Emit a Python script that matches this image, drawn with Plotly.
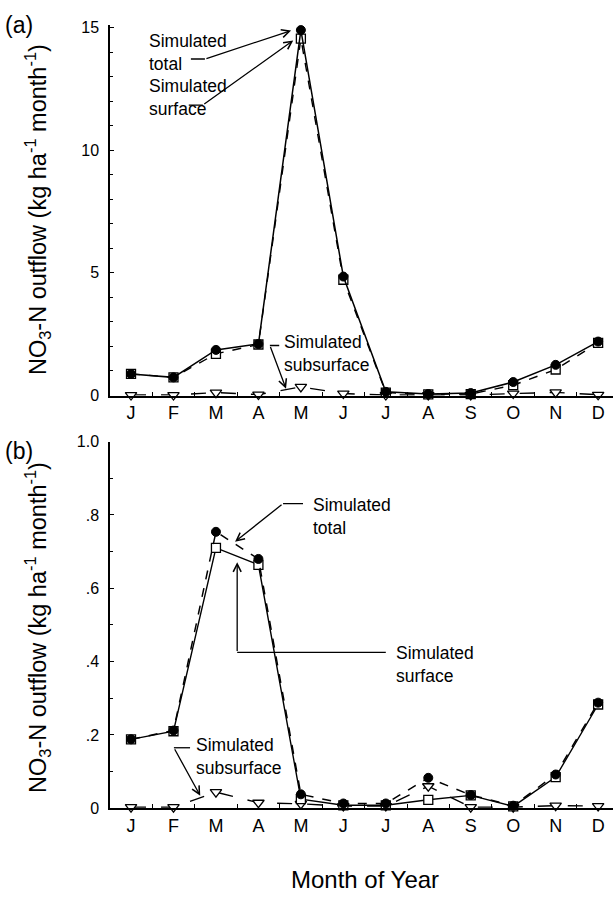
import plotly.graph_objects as go

months = ["J", "F", "M", "A", "M", "J", "J", "A", "S", "O", "N", "D"]
x = list(range(1, 13))

# Panel (a)
a_total = [0.88, 0.74, 1.86, 2.10, 14.9, 4.85, 0.15, 0.06, 0.10, 0.55, 1.25, 2.20]
a_surface = [0.88, 0.74, 1.70, 2.08, 14.55, 4.72, 0.12, 0.05, 0.06, 0.42, 1.06, 2.15]
a_subsurface = [0.02, 0.02, 0.12, 0.04, 0.35, 0.08, 0.02, 0.02, 0.02, 0.08, 0.13, 0.03]

# Panel (b)
b_total = [0.188, 0.212, 0.754, 0.680, 0.038, 0.013, 0.013, 0.083, 0.036, 0.007, 0.092, 0.288]
b_surface = [0.188, 0.210, 0.710, 0.664, 0.025, 0.008, 0.008, 0.023, 0.035, 0.005, 0.085, 0.283]
b_subsurface = [0.003, 0.003, 0.044, 0.015, 0.012, 0.006, 0.006, 0.060, 0.003, 0.003, 0.007, 0.006]

a_yticks = [0, 5, 10, 15]
a_yticktext = ["0", "5", "10", "15"]
b_yticks = [0, 0.2, 0.4, 0.6, 0.8, 1.0]
b_yticktext = ["0", ".2", ".4", ".6", ".8", "1.0"]

NARROW = "Liberation Sans Narrow, Arial Narrow, Liberation Sans, Arial"
REG = "Liberation Sans, Arial"

W, H = 613, 897
fig = go.Figure()

def add_series(xa, ya, total, surface, subsurface, dash_total, dash_surface):
    fig.add_trace(go.Scatter(x=x, y=subsurface, xaxis=xa, yaxis=ya, mode="lines+markers",
                             line=dict(color="black", width=1.4, dash="longdash"),
                             marker=dict(symbol="triangle-down", size=10, color="white",
                                         line=dict(color="black", width=1.3)),
                             showlegend=False, cliponaxis=False))
    fig.add_trace(go.Scatter(x=x, y=surface, xaxis=xa, yaxis=ya, mode="lines+markers",
                             line=dict(color="black", width=1.4, dash=dash_surface),
                             marker=dict(symbol="square", size=9, color="white",
                                         line=dict(color="black", width=1.3)),
                             showlegend=False, cliponaxis=False))
    fig.add_trace(go.Scatter(x=x, y=total, xaxis=xa, yaxis=ya, mode="lines+markers",
                             line=dict(color="black", width=1.5, dash=dash_total),
                             marker=dict(symbol="circle", size=9, color="black",
                                         line=dict(color="black", width=1)),
                             showlegend=False, cliponaxis=False))

add_series("x", "y", a_total, a_surface, a_subsurface, "solid", "dash")
add_series("x2", "y2", b_total, b_surface, b_subsurface, "dash", "solid")

x_left = 110 / W
xrange_ = [0.505, 12.35]
common_x = dict(range=xrange_, showline=True, linecolor="black", linewidth=1.5,
                tickmode="array", tickvals=x, ticktext=months, ticks="", showgrid=False,
                zeroline=False, tickfont=dict(family=NARROW, size=18, color="black"),
                ticklabelstandoff=0,
                minor=dict(tickmode="array", tickvals=[i + 0.5 for i in range(0, 12)],
                           ticks="inside", ticklen=4, tickcolor="black", tickwidth=1))
common_y = dict(showline=True, linecolor="black", linewidth=1.5, ticks="inside",
                ticklen=4, tickcolor="black", tickwidth=1, showgrid=False, zeroline=False,
                tickfont=dict(family=NARROW, size=16, color="black"), ticklabelstandoff=6)

fig.update_layout(
    width=W, height=H, margin=dict(l=0, r=0, t=0, b=0),
    paper_bgcolor="white", plot_bgcolor="white",
    xaxis=dict(domain=[x_left, 1], anchor="y", **common_x),
    yaxis=dict(domain=[1 - 395 / H, 1 - 17.5 / H], anchor="x", range=[0, 15.1],
               tickmode="array", tickvals=a_yticks, ticktext=a_yticktext,
               minor=dict(dtick=1, ticks="inside", ticklen=3, tickcolor="black"),
               **common_y),
    xaxis2=dict(domain=[x_left, 1], anchor="y2", **common_x),
    yaxis2=dict(domain=[1 - 815.7 / H, 1 - 442 / H], anchor="x2", range=[0, 1.0],
                tickmode="array", tickvals=b_yticks, ticktext=b_yticktext,
                minor=dict(dtick=0.1, ticks="inside", ticklen=3, tickcolor="black"),
                **common_y),
)

ann_font = dict(family=NARROW, size=17.5, color="black")

def label(xa, ya, xv, yv, text):
    fig.add_annotation(x=xv, y=yv, xref=xa, yref=ya, text=text, showarrow=False,
                       xanchor="left", yanchor="middle", align="left", font=ann_font)

def seg(xa, ya, x0, y0, x1, y1):
    fig.add_shape(type="line", xref=xa, yref=ya, x0=x0, y0=y0, x1=x1, y1=y1,
                  line=dict(color="black", width=1.3))

def arrow(xa, ya, x0, y0, x1, y1):
    fig.add_annotation(x=x1, y=y1, ax=x0, ay=y0, xref=xa, yref=ya, axref=xa, ayref=ya,
                       text="", showarrow=True, arrowhead=5, arrowsize=1.2,
                       arrowwidth=1.3, arrowcolor="black")

# Panel (a) annotations
label("x", "y", 1.38, 14.0, "Simulated<br>total")
seg("x", "y", 2.41, 13.72, 2.74, 13.72)
arrow("x", "y", 2.74, 13.72, 4.77, 14.88)
label("x", "y", 1.38, 12.16, "Simulated<br>surface")
seg("x", "y", 2.36, 11.84, 2.69, 11.84)
arrow("x", "y", 2.69, 11.84, 4.82, 14.48)
label("x", "y", 4.56, 1.72, "Simulated<br>subsurface")
seg("x", "y", 4.27, 2.04, 4.49, 2.04)
arrow("x", "y", 4.27, 2.04, 4.65, 0.28)

# Panel (b) annotations
label("x2", "y2", 5.24, 0.795, "Simulated<br>total")
seg("x2", "y2", 4.58, 0.831, 5.05, 0.831)
arrow("x2", "y2", 4.58, 0.831, 3.45, 0.727)
label("x2", "y2", 7.20, 0.392, "Simulated<br>surface")
seg("x2", "y2", 7.00, 0.425, 3.50, 0.425)
arrow("x2", "y2", 3.50, 0.425, 3.50, 0.671)
label("x2", "y2", 2.48, 0.142, "Simulated<br>subsurface")
seg("x2", "y2", 2.01, 0.165, 2.39, 0.165)
arrow("x2", "y2", 2.01, 0.165, 2.63, 0.034)

# Panel letters
fig.add_annotation(x=3 / W, y=1 - 17 / H, xref="paper", yref="paper", text="(a)",
                   showarrow=False, xanchor="left", yanchor="middle",
                   font=dict(family=REG, size=23, color="black"))
fig.add_annotation(x=3 / W, y=1 - 452 / H, xref="paper", yref="paper", text="(b)",
                   showarrow=False, xanchor="left", yanchor="middle",
                   font=dict(family=REG, size=23, color="black"))

ytitle = "NO<sub>3</sub>-N outflow (kg ha<sup>-1</sup> month<sup>-1</sup>)"
for yc in (206, 632):
    fig.add_annotation(x=37 / W, y=1 - yc / H, xref="paper", yref="paper", text=ytitle,
                       showarrow=False, textangle=-90, xanchor="center", yanchor="middle",
                       font=dict(family=REG, size=23.5, color="black"))

fig.add_annotation(x=365 / W, y=1 - 888 / H, xref="paper", yref="paper", text="Month of Year",
                   showarrow=False, xanchor="center", yanchor="middle",
                   font=dict(family=NARROW, size=24, color="black"))

fig.write_html("out.html", config={"displayModeBar": False},
               post_script="document.body.style.margin='0';document.body.style.padding='0';")
